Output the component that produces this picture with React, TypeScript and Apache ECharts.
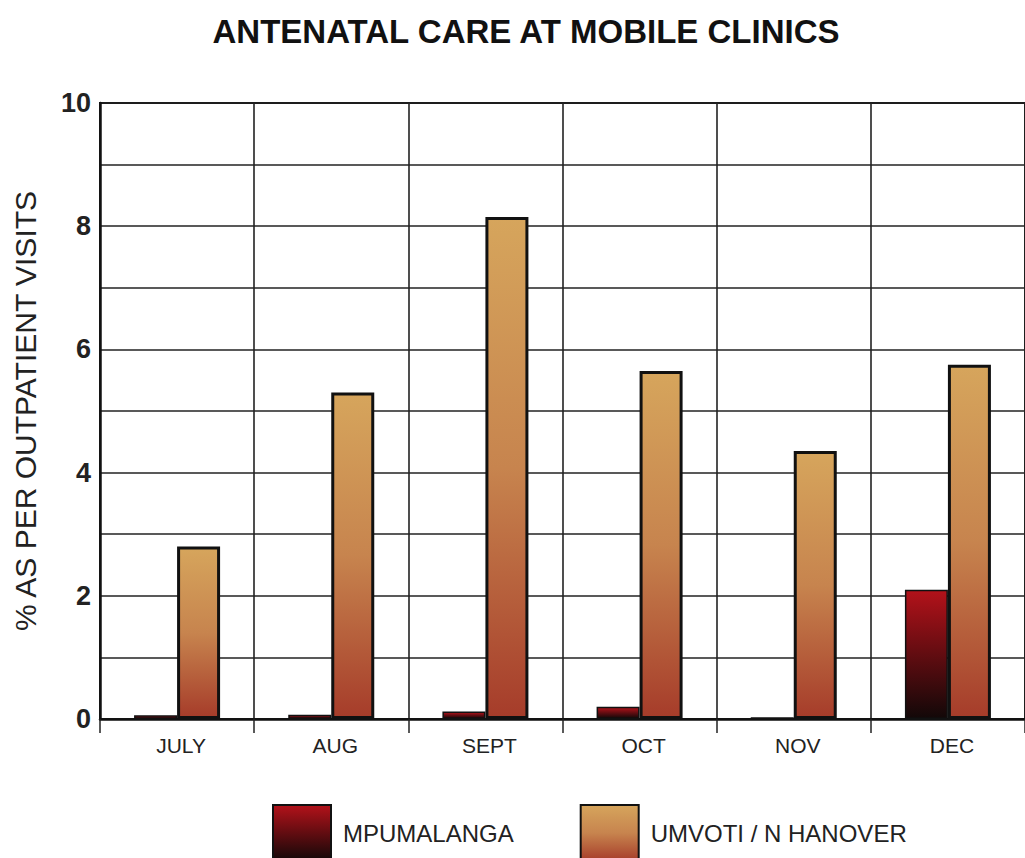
import React, { useEffect, useRef } from "react";
import * as echarts from "echarts";

const categories = ["JULY", "AUG", "SEPT", "OCT", "NOV", "DEC"];
const mpumalanga = [0.06, 0.07, 0.12, 0.2, 0.03, 2.1];
const umvoti = [2.8, 5.3, 8.15, 5.65, 4.35, 5.75];
const seriesNames = ["MPUMALANGA", "UMVOTI / N HANOVER"];

export default function App() {
  const ref = useRef<HTMLDivElement>(null);
  useEffect(() => {
    if (!ref.current) return;
    const chart = echarts.init(ref.current, undefined, { renderer: "svg" });
    const redGrad = new echarts.graphic.LinearGradient(0, 0, 0, 1, [
      { offset: 0, color: "#b3121a" },
      { offset: 0.55, color: "#5a0c10" },
      { offset: 1, color: "#120808" },
    ]);
    const orangeGrad = new echarts.graphic.LinearGradient(0, 0, 0, 1, [
      { offset: 0, color: "#d6a55c" },
      { offset: 0.5, color: "#c7844e" },
      { offset: 1, color: "#a63c2a" },
    ]);
    const font = "Liberation Sans, Arial, sans-serif";
    chart.setOption({
      animation: false,
      backgroundColor: "#ffffff",
      textStyle: { fontFamily: font },
      title: {
        text: "ANTENATAL CARE AT MOBILE CLINICS",
        left: 521,
        textAlign: "center",
        top: 10,
        textStyle: {
          fontSize: 33,
          fontWeight: "bold",
          color: "#111",
          fontFamily: font,
        },
      },
      grid: {
        left: 100,
        top: 103,
        width: 930,
        height: 616,
        show: true,
        borderColor: "#111",
        borderWidth: 2,
        backgroundColor: "transparent",
      },
      legend: {
        left: 272,
        top: 804,
        padding: 0,
        itemWidth: 58,
        itemHeight: 56,
        itemGap: 66,
        icon: "rect",
        data: seriesNames,
        textStyle: {
          fontSize: 24,
          color: "#222",
          padding: [0, 0, 0, 7],
          fontFamily: font,
        },
      },
      xAxis: {
        type: "category",
        data: categories,
        axisLine: { lineStyle: { color: "#111", width: 2.5 } },
        axisTick: { show: true, length: 14, lineStyle: { color: "#222", width: 1.5 } },
        axisLabel: { fontSize: 21, color: "#222", margin: 16, padding: [0, 0, 0, 8] },
        splitLine: { show: true, lineStyle: { color: "#222", width: 1.6 } },
      },
      yAxis: {
        type: "value",
        min: 0,
        max: 10,
        interval: 1,
        name: "% AS PER OUTPATIENT VISITS",
        nameLocation: "middle",
        nameRotate: 90,
        nameGap: 60,
        nameTextStyle: { fontSize: 30, color: "#222" },
        axisLine: { show: true, lineStyle: { color: "#111", width: 2.5 } },
        axisTick: { show: false },
        axisLabel: {
          fontSize: 27,
          fontWeight: "bold",
          color: "#222",
          margin: 9,
          formatter: (v: number) => (v % 2 === 0 ? String(v) : ""),
        },
        splitLine: { show: true, lineStyle: { color: "#222", width: 1.6 } },
      },
      series: [
        {
          name: seriesNames[0],
          type: "bar",
          data: mpumalanga,
          barWidth: 43,
          barGap: "0%",
          itemStyle: { color: redGrad, borderColor: "#111", borderWidth: 1.5 },
        },
        {
          name: seriesNames[1],
          type: "bar",
          data: umvoti,
          barWidth: 43,
          barGap: "0%",
          itemStyle: { color: orangeGrad, borderColor: "#111", borderWidth: 3 },
        },
      ],
    });
    return () => chart.dispose();
  }, []);
  return (
    <div
      ref={ref}
      style={{ position: "absolute", left: 0, top: 0, width: 1025, height: 858 }}
    />
  );
}
